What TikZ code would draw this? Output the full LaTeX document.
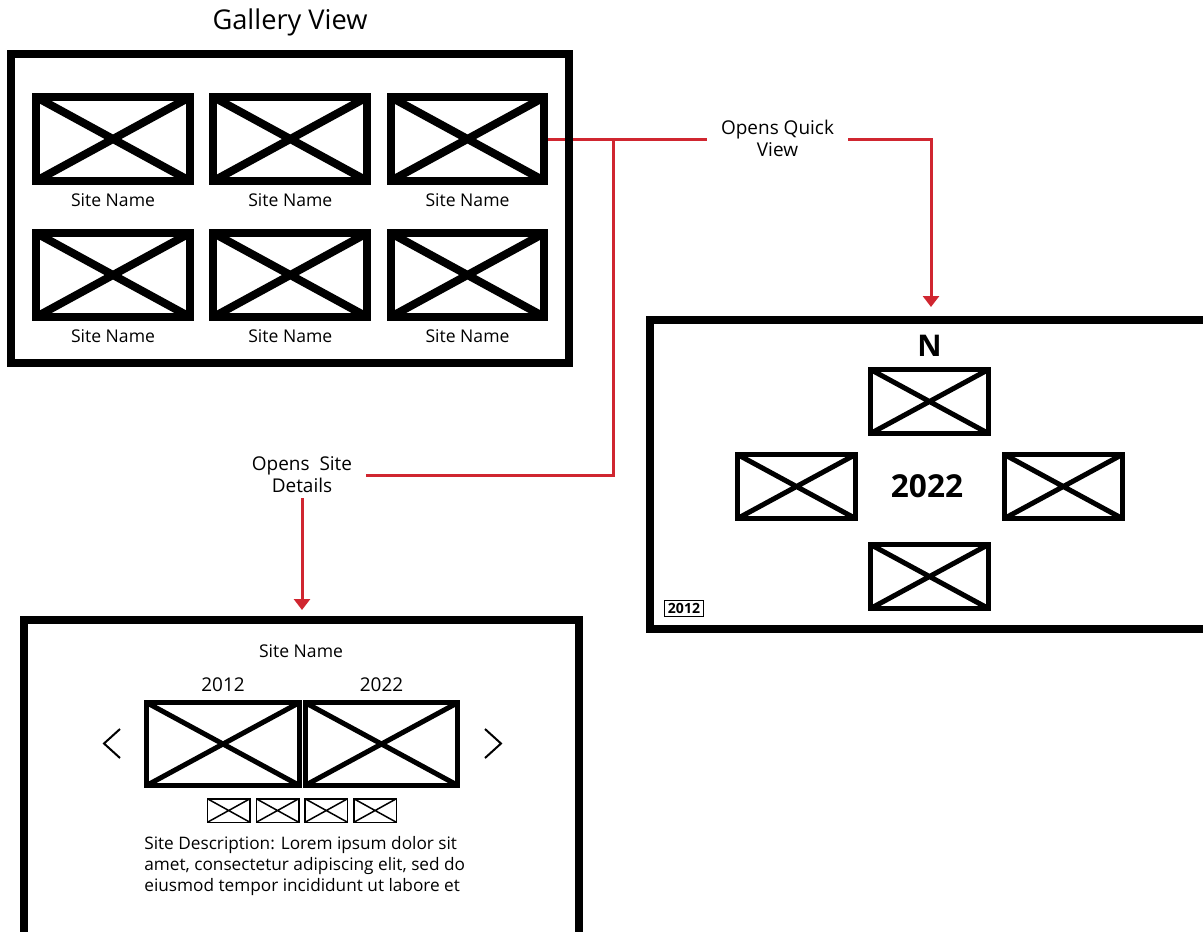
\documentclass[tikz,border=0pt]{standalone}
\usepackage{fontspec}
\setmainfont{Open Sans}
\usetikzlibrary{
    positioning,
    arrows.meta,
    backgrounds
}
\definecolor{linkred}{RGB}{208, 38, 48}

\begin{document}
\begin{tikzpicture}[
    x=0.02cm, y=-0.02cm,
    % Image placeholder (box with a cross)
    xbox/.style={
        draw,
        line width=#1,
        inner sep=0pt,
        path picture={
            \draw[line width=#1]
                (path picture bounding box.north west) -- (path picture bounding box.south east)
                (path picture bounding box.south west) -- (path picture bounding box.north east);
        }
    },
    gthumb/.style={xbox=0.16cm, minimum width=3.08cm, minimum height=1.68cm},
    qthumb/.style={xbox=0.1cm, minimum width=2.36cm, minimum height=1.28cm},
    dimage/.style={xbox=0.1cm, minimum width=3.06cm, minimum height=1.66cm},
    minithumb/.style={xbox=0.03cm, minimum width=0.85cm, minimum height=0.47cm},
    % Screen frames
    screen/.style={
        draw,
        line width=#1,
        inner sep=0pt
    },
    % Texts
    title/.style={font=\fontsize{15.5}{18}\selectfont},
    sitename/.style={font=\fontsize{10}{12}\selectfont, inner sep=0pt},
    year/.style={font=\fontsize{10.8}{13}\selectfont, inner sep=0pt},
    linklabel/.style={
        font=\fontsize{10.8}{12.4}\selectfont,
        align=center,
        inner xsep=0.28cm,
        inner ysep=0.1cm
    },
    % Red connector
    link/.style={
        draw=linkred,
        line width=0.06cm
    },
    tip/.style={-{Triangle[length=0.22cm, width=0.32cm]}}
]

\useasboundingbox (0,0) rectangle (1203,931);
\clip (0,0) rectangle (1203,931);

% ============================================
% GALLERY VIEW
% ============================================

\node[title] (gtitle) at (290, 22) {Gallery View};
\node[screen=0.16cm, minimum width=11.16cm, minimum height=6.18cm] (gallery) at (290, 208.5) {};

\foreach \r/\y in {1/139, 2/275} {
    \foreach \c/\x in {1/113, 2/290.3, 3/467.5} {
        \node[gthumb] (g\r\c) at (\x, \y) {};
        \node[sitename, below=0.16cm of g\r\c] (gl\r\c) {Site Name};
    }
}

% ============================================
% QUICK VIEW
% ============================================

\node[screen=0.15cm, minimum width=11.8cm, minimum height=6.19cm] (quick) at (944.9, 474.5) {};

\node[qthumb] (qtop) at (929.5, 401.5) {};
\node[qthumb] (qleft) at (796.5, 486.5) {};
\node[qthumb] (qright) at (1063.3, 486.5) {};
\node[qthumb] (qbottom) at (929.5, 576.5) {};

\node[font=\fontsize{17}{20}\selectfont\bfseries, inner sep=0pt, above=0.2cm of qtop] (north) {N};
\node[font=\fontsize{18}{21}\selectfont\bfseries, inner sep=0pt] (qyear) at (927, 486) {2022};
\node[draw, line width=0.03cm, font=\fontsize{8}{9}\selectfont\bfseries,
      inner xsep=0.07cm, inner ysep=0.06cm] (qold) at (684, 608.5) {2012};

% ============================================
% SITE DETAILS
% ============================================

\node[screen=0.16cm, minimum width=11.1cm, minimum height=6.8cm] (details) at (301.5, 790) {};

\node[sitename] (dname) at (301, 651) {Site Name};

\node[dimage] (dold) at (223, 744) {};
\node[dimage] (dnew) at (381.5, 744) {};
\node[year, above=0.16cm of dold] (doldyear) {2012};
\node[year, above=0.16cm of dnew] (dnewyear) {2022};

% Carousel arrows
\draw[line width=0.04cm] (120, 729) -- (104, 743.5) -- (120, 758);
\draw[line width=0.04cm] (485, 729) -- (501, 743.5) -- (485, 758);

\foreach \i in {0,...,3} {
    \node[minithumb] (dmini\i) at (228.7 + 48.8*\i, 810.5) {};
}

\node[sitename, anchor=north west, align=left,
      font=\fontsize{9.8}{11.9}\selectfont] (ddesc) at (144, 836) {
    Site Description: Lorem ipsum dolor sit\\
    amet, consectetur adipiscing elit, sed do\\
    eiusmod tempor incididunt ut labore et
};

% ============================================
% CONNECTORS
% ============================================

\node[linklabel] (qvlabel) at (777.5, 138) {Opens Quick\\View};
\node[linklabel] (sdlabel) at (302, 475) {Opens~~Site\\Details};

\coordinate (split) at (613.5, 139);
\coordinate (qvin) at (931, 307);
\coordinate (sdin) at (302, 610);

\begin{scope}[on background layer]
    \draw[link] (g13.east) -- (qvlabel.west |- g13.east);
    \draw[link, tip] (qvlabel.east |- g13.east) -| (qvin);
    \draw[link] (split) |- (sdlabel.east);
    \draw[link, tip] (sdlabel.south) -- (sdin);
\end{scope}

\end{tikzpicture}
\end{document}
